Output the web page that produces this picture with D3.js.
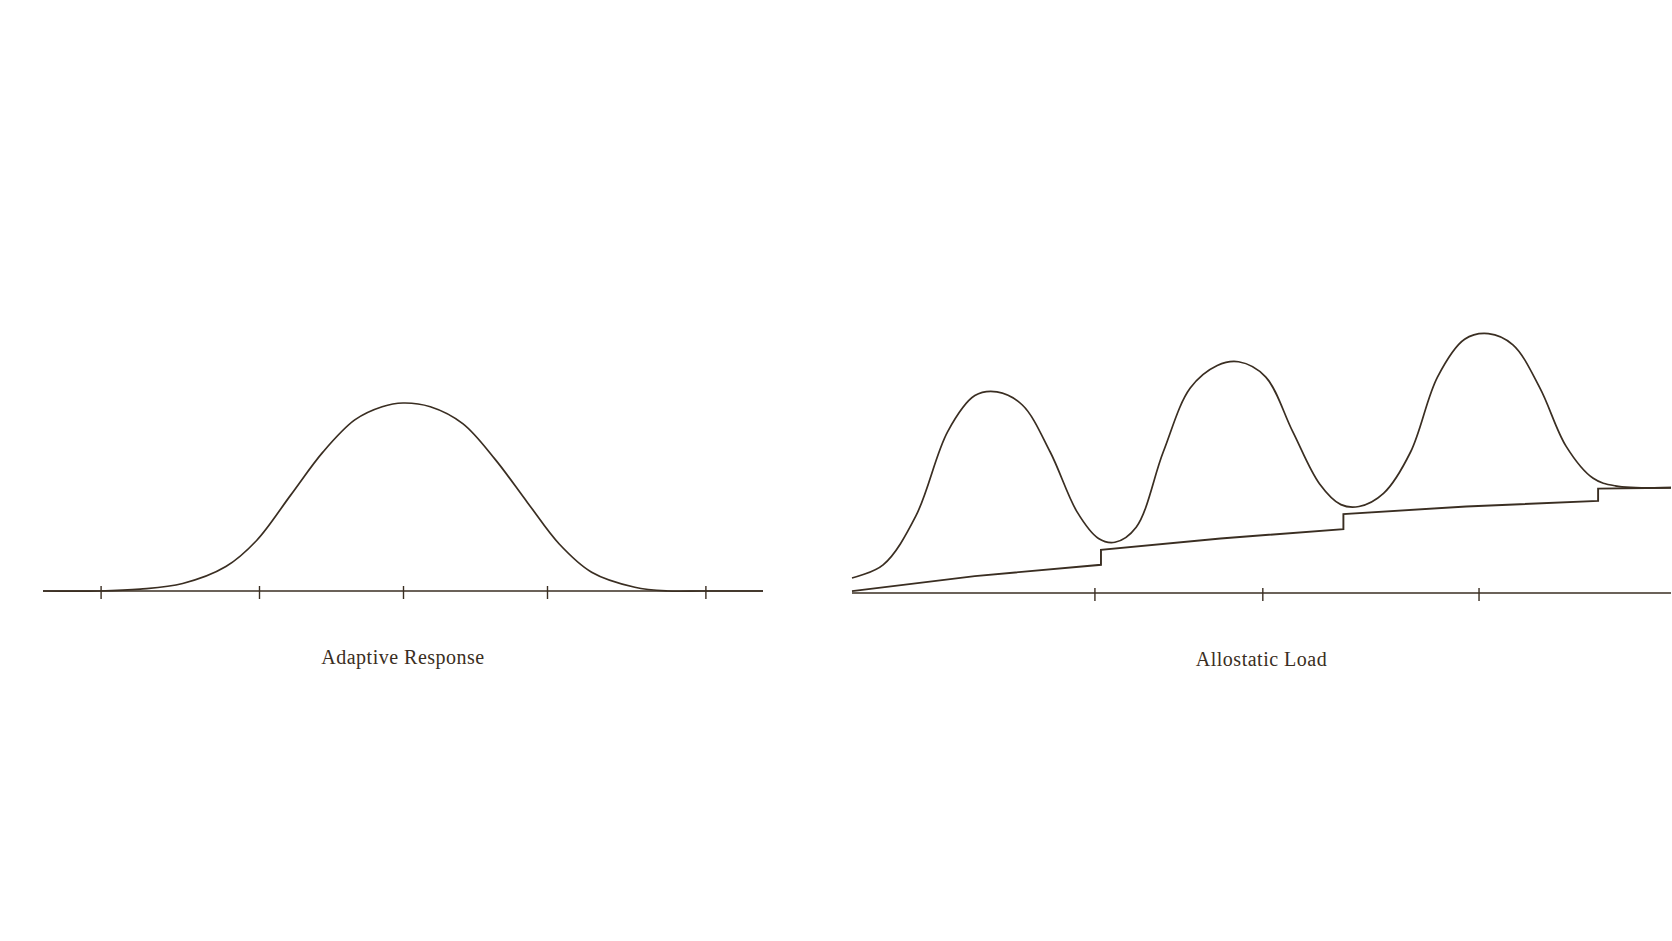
<!DOCTYPE html>
<html><head><meta charset="utf-8">
<script src="https://cdn.jsdelivr.net/npm/d3@7"></script>
<style>body{margin:0;background:#fff}</style></head>
<body><svg id="c" width="1672" height="941"></svg>
<script>
// Left panel: adaptive response (time t, response r)
const leftT = [0,0.78,1.35,1.94,2.54,2.97,3.44,3.89,4.33,4.71,5.0,5.38,5.83,6.28,6.73,7.17,7.62,8.22,8.67,9.16,10];
const leftR = [0,0,0.01,0.04,0.13,0.27,0.51,0.74,0.91,0.98,1.0,0.98,0.89,0.70,0.47,0.25,0.10,0.02,0,0,0];
const leftTicks = [0.8,3,5,7,9.2];
// Right panel: allostatic load
const rightT = [0,0.38,0.78,1.17,1.5,1.77,2.08,2.42,2.75,3.01,3.21,3.47,3.80,4.13,4.46,4.72,5.05,5.38,5.71,5.97,6.19,6.49,6.82,7.15,7.48,7.77,8.07,8.40,8.72,9.05,9.32,10];
const rightR = [0.08,0.15,0.41,0.86,1.05,1.07,1.00,0.75,0.43,0.29,0.27,0.35,0.75,1.09,1.21,1.23,1.15,0.86,0.58,0.47,0.46,0.53,0.75,1.15,1.35,1.38,1.32,1.09,0.78,0.61,0.57,0.56];
const loadT = [0,1.5,3.04,3.04,4.5,6.0,6.0,7.5,9.11,9.11,10];
const loadR = [0.01,0.09,0.15,0.23,0.29,0.34,0.42,0.46,0.49,0.555,0.56];
const rightTicks = [2.96,5.01,7.65];
const labels = ["Adaptive Response","Allostatic Load"];

const svg = d3.select("#c");
const col = "#3a2e22";
function panel(x0,x1,yBase,ts,rs,ticks,label,extra){
  const x = d3.scaleLinear().domain([0,10]).range([x0,x1]);
  const y = d3.scaleLinear().domain([0,1]).range([yBase,yBase-188]);
  const g = svg.append("g");
  const ax = g.append("g").attr("transform",`translate(0,${yBase})`)
    .call(d3.axisBottom(x).tickValues(ticks).tickSize(8).tickFormat(""));
  ax.select(".domain").attr("d",`M${x0},0H${x1}`).attr("stroke",col).attr("stroke-width",1.4);
  ax.selectAll(".tick line").attr("stroke",col).attr("stroke-width",1.4).attr("y1",-5);
  const line = d3.line().x(d=>x(d[0])).y(d=>y(d[1])).curve(d3.curveCatmullRom.alpha(0.5));
  g.append("path").attr("d",line(d3.zip(ts,rs))).attr("fill","none").attr("stroke",col).attr("stroke-width",1.7);
  if(extra){
    const l2 = d3.line().x(d=>x(d[0])).y(d=>y(d[1]));
    g.append("path").attr("d",l2(d3.zip(extra[0],extra[1]))).attr("fill","none").attr("stroke",col).attr("stroke-width",1.9);
  }
  g.append("text").attr("x",(x0+x1)/2).attr("y",yBase+73).attr("text-anchor","middle")
    .attr("font-family","Liberation Serif, serif").attr("font-size",20).attr("fill",col)
    .attr("letter-spacing",0.5).text(label);
}
panel(43,763,591,leftT,leftR,leftTicks,labels[0]);
panel(852,1671,593,rightT,rightR,rightTicks,labels[1],[loadT,loadR]);
</script></body></html>
